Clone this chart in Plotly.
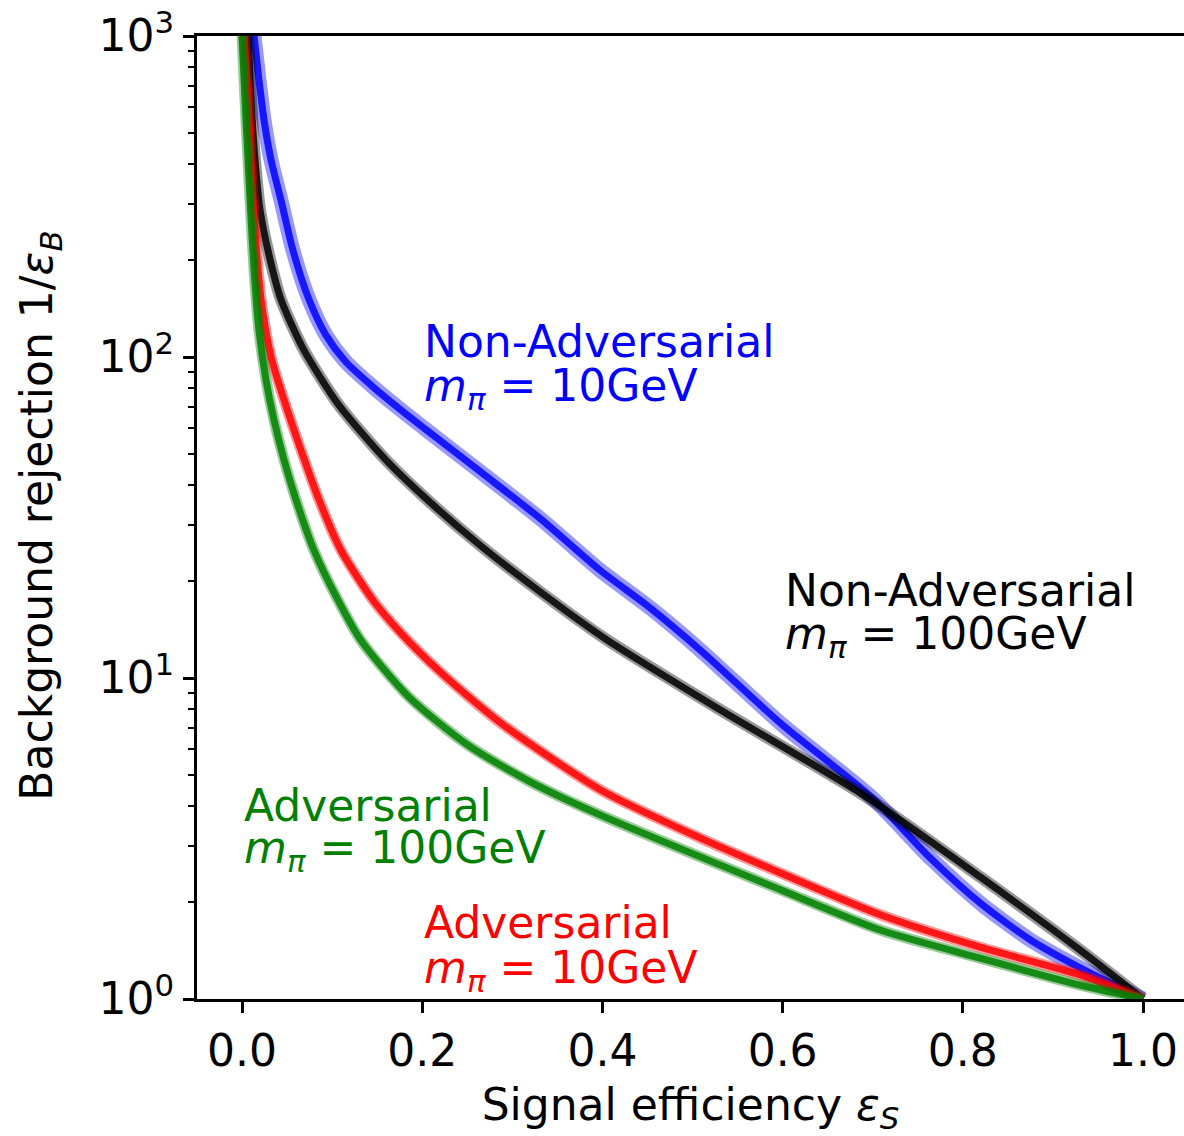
import plotly.graph_objects as go

# ROC-style curves: signal efficiency vs. background rejection (1/eps_B)
eff_nonadv_10 = [0.0133, 0.0188, 0.0244, 0.0322, 0.0432, 0.0565, 0.0743, 0.0931, 0.1153,
                 0.1430, 0.1763, 0.2018, 0.265, 0.3315, 0.398, 0.4534, 0.5089, 0.5998,
                 0.6996, 0.7639, 0.8193, 0.8747, 0.9302, 1.0]
rej_nonadv_10 = [1000, 729, 547, 411, 308, 215, 151, 117, 96.5,
                 81.8, 68.4, 60.1, 43.8, 31.3, 21.6, 16.5, 12.2, 7.14,
                 4.23, 2.75, 1.99, 1.53, 1.25, 1.0]

eff_nonadv_100 = [0.0067, 0.0100, 0.0144, 0.0200, 0.0299, 0.0432, 0.0687, 0.1075, 0.1596,
                  0.2095, 0.265, 0.3315, 0.4058, 0.531, 0.6896, 0.8193, 0.9302, 1.0]
rej_nonadv_100 = [1000, 632, 411, 287, 208, 151, 105, 70.8, 47.8,
                  35.1, 25.8, 18.5, 13.1, 7.95, 4.32, 2.40, 1.42, 1.0]

eff_adv_10 = [0.0022, 0.0067, 0.0122, 0.0211, 0.0322, 0.0466, 0.0654, 0.0854, 0.1098,
              0.1452, 0.1763, 0.2206, 0.2871, 0.398, 0.5089, 0.5976, 0.7084, 0.8193,
              0.9302, 1.0]
rej_adv_10 = [1000, 632, 308, 151, 100, 73.5, 51.3, 35.9, 25.0,
              17.5, 13.8, 10.4, 7.24, 4.48, 3.17, 2.47, 1.83, 1.45,
              1.188, 1.0]

eff_adv_100 = [0.0, 0.0033, 0.0089, 0.0133, 0.0188, 0.0266, 0.0355, 0.0466, 0.0599, 0.0798,
               0.1064, 0.1319, 0.1851, 0.2506, 0.3204, 0.398, 0.5976, 0.7084, 0.8193,
               0.9302, 1.0]
rej_adv_100 = [1000, 632, 308, 187, 121, 84.8, 63.6, 47.8, 35.9, 25.0,
               17.5, 13.1, 8.73, 6.18, 4.74, 3.74, 2.19, 1.64, 1.34,
               1.105, 1.0]

y_tick_vals = [1, 10, 100, 1000]
y_tick_text = ["10<sup>0</sup>", "10<sup>1</sup>", "10<sup>2</sup>", "10<sup>3</sup>"]
x_tick_vals = [0.0, 0.2, 0.4, 0.6, 0.8, 1.0]
x_tick_text = ["0.0", "0.2", "0.4", "0.6", "0.8", "1.0"]
minor_vals = [m * 10 ** d for d in range(3) for m in range(2, 10)]

FONT = "DejaVu Sans"
FS = 44

series = [
    (eff_nonadv_10, rej_nonadv_10, "rgb(0,0,255)", 15, 7),
    (eff_nonadv_100, rej_nonadv_100, "rgb(0,0,0)", 12, 7),
    (eff_adv_10, rej_adv_10, "rgb(255,0,0)", 11, 7),
    (eff_adv_100, rej_adv_100, "rgb(0,128,0)", 11, 7),
]

fig = go.Figure()
for xs, ys, color, wide, core in series:
    # soft outer band followed by a denser core line
    fig.add_trace(go.Scatter(x=xs, y=ys, mode="lines", opacity=0.4,
                             line=dict(color=color, width=wide, shape="spline", smoothing=0.7),
                             hoverinfo="skip", showlegend=False))
    fig.add_trace(go.Scatter(x=xs, y=ys, mode="lines", opacity=0.85,
                             line=dict(color=color, width=core, shape="spline", smoothing=0.7),
                             showlegend=False))

# two-line curve labels (positions in axis units; y in log10)
labels = [
    (0.2, 2.047, 1.903, "Non-Adversarial", "10GeV", "rgb(0,0,255)"),
    (0.6, 1.274, 1.128, "Non-Adversarial", "100GeV", "black"),
    (0.0, 0.604, 0.464, "Adversarial", "100GeV", "rgb(0,128,0)"),
    (0.2, 0.237, 0.090, "Adversarial", "10GeV", "rgb(255,0,0)"),
]
annotations = []
for x, y1, y2, line1, mass, color in labels:
    annotations.append(dict(x=x, y=y1, xref="x", yref="y", text=line1, showarrow=False,
                            xanchor="left", yanchor="middle",
                            font=dict(family=FONT, size=FS, color=color)))
    annotations.append(dict(x=x, y=y2, xref="x", yref="y",
                            text="<i>m</i><sub><i>π</i></sub> = " + mass, showarrow=False,
                            xanchor="left", yanchor="middle",
                            font=dict(family=FONT, size=FS, color=color)))

# y-axis title placed as a rotated annotation left of the tick labels
annotations.append(dict(x=-0.159, y=0.502, xref="paper", yref="paper",
                        text="Background rejection 1/<i>ε</i><sub><i>B</i></sub>",
                        textangle=-90, showarrow=False, xanchor="center", yanchor="middle",
                        font=dict(family=FONT, size=FS, color="black")))

fig.update_layout(
    width=1184, height=1136,
    margin=dict(l=197, r=0, t=36, b=137),
    paper_bgcolor="white", plot_bgcolor="white",
    font=dict(family=FONT, size=FS, color="black"),
    annotations=annotations,
    xaxis=dict(
        range=[-0.05, 1.0455], tickvals=x_tick_vals, ticktext=x_tick_text,
        showline=True, linecolor="black", linewidth=3, mirror=True,
        ticks="outside", ticklen=11, tickwidth=2.5, tickcolor="black",
        showgrid=False, zeroline=False,
        tickfont=dict(family=FONT, size=FS),
        title=dict(text="Signal efficiency <i>ε</i><sub><i>S</i></sub>",
                   font=dict(family=FONT, size=FS), standoff=18),
    ),
    yaxis=dict(
        type="log", range=[0, 3], tickvals=y_tick_vals, ticktext=y_tick_text,
        showline=True, linecolor="black", linewidth=3, mirror=False,
        ticks="outside", ticklen=11, tickwidth=2.5, tickcolor="black",
        minor=dict(tickvals=minor_vals, ticks="outside", ticklen=6, tickwidth=2, tickcolor="black"),
        showgrid=False, zeroline=False,
        tickfont=dict(family=FONT, size=FS),
    ),
)

fig.write_html("out.html")
